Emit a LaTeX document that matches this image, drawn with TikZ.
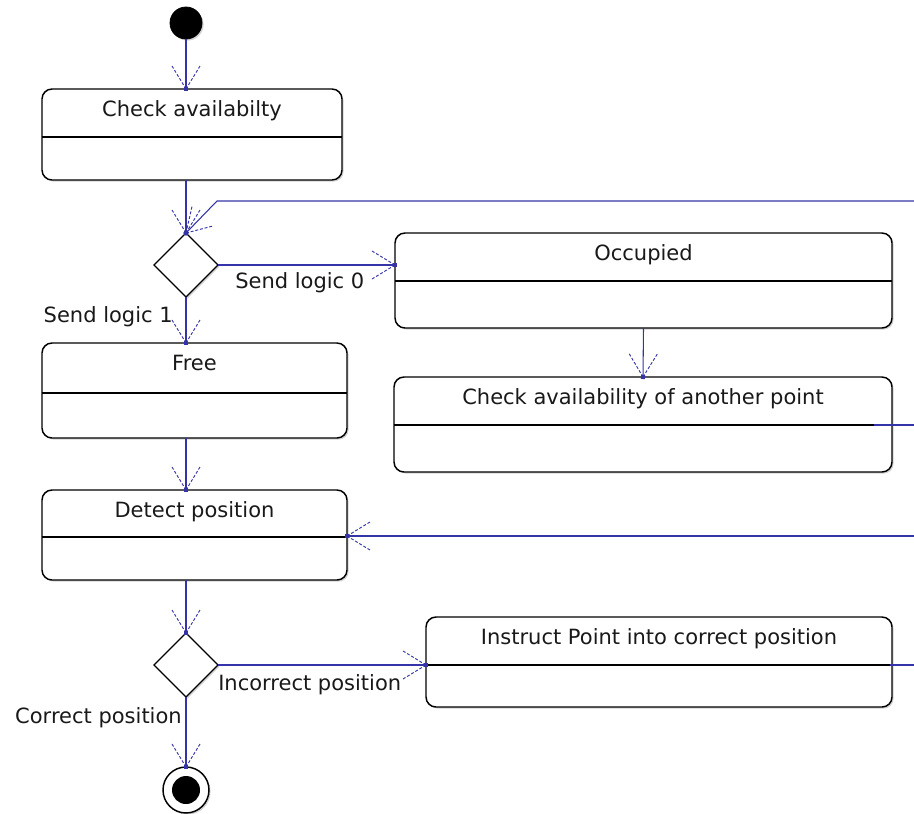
\documentclass[tikz,border=0pt]{standalone}
\usepackage{fontspec}
\setmainfont{DejaVu Sans}
\usetikzlibrary{shapes.geometric,shadows,decorations.markings}
\newlength\pxu
\setlength\pxu{0.75pt}
\definecolor{flowblue}{RGB}{52,52,168}
\definecolor{inkgray}{RGB}{25,25,25}
\begin{document}
\begin{tikzpicture}[x=0.75pt,y=-0.75pt,
  every node/.style={font=\fontsize{15.75pt}{18pt}\selectfont, text=inkgray},
  boxshadow/.style={drop shadow={shadow xshift=1.2pt, shadow yshift=-1.2pt, opacity=0.35}},
  statebox/.style={draw=black, line width=1.1pt, rounded corners=7.5pt, fill=white,
    inner sep=0pt, outer sep=0pt, boxshadow},
  divider/.style={draw=black, line width=1.1pt},
  choice/.style={diamond, draw=black, line width=0.9pt, fill=white, inner sep=0pt, outer sep=0pt,
    minimum width=64*\pxu, minimum height=64*\pxu, boxshadow},
  caption/.style={inner sep=0pt},
  flowline/.style={draw=flowblue, line width=0.8pt},
  flow/.style={flowline, postaction={decorate}, decoration={markings,
    mark=at position 1 with {
      \draw[flowblue, line width=0.7pt, dash pattern=on 2.2pt off 1.4pt]
        (0,0) -- (-23,14) (0,0) -- (-23,-14);
      \fill[flowblue] (-2,-2) rectangle (2,2);}}}
]
\useasboundingbox (0,0) rectangle (914,814);

% initial and final states
\node[circle, fill=black, draw=black, line width=0.6pt, minimum size=32*\pxu, inner sep=0pt, boxshadow] (start) at (186,23) {};
\node[circle, draw=black, line width=1.1pt, fill=white, minimum size=46*\pxu, inner sep=0pt, outer sep=0pt, boxshadow] (finish) at (186,790) {};
\node[circle, fill=black, minimum size=28*\pxu, inner sep=0pt] (finishcore) at (finish.center) {};

% action states
\node[statebox, minimum width=300*\pxu, minimum height=91*\pxu] (check) at (192,134.5) {};
\node[statebox, minimum width=497*\pxu, minimum height=95*\pxu] (occ) at (643.5,280.5) {};
\node[statebox, minimum width=498*\pxu, minimum height=95*\pxu] (ano) at (643,424.5) {};
\node[statebox, minimum width=305*\pxu, minimum height=95*\pxu] (free) at (194.5,390.5) {};
\node[statebox, minimum width=305*\pxu, minimum height=90*\pxu] (det) at (194.5,535) {};
\node[statebox, minimum width=466*\pxu, minimum height=90*\pxu] (ins) at (659,662) {};

% compartment dividers
\draw[divider] (check.west |- 0,137) -- (check.east |- 0,137);
\draw[divider] (occ.west |- 0,281) -- (occ.east |- 0,281);
\draw[divider] (ano.west |- 0,425) -- (ano.east |- 0,425);
\draw[divider] (free.west |- 0,393) -- (free.east |- 0,393);
\draw[divider] (det.west |- 0,537) -- (det.east |- 0,537);
\draw[divider] (ins.west |- 0,665) -- (ins.east |- 0,665);

% state names
\node[caption, anchor=base] (tcheck) at (check.north |- 0,116) {Check availabilty};
\node[caption, anchor=base] (tocc) at (occ.north |- 0,260) {Occupied};
\node[caption, anchor=base] (tano) at (ano.north |- 0,404) {Check availability of another point};
\node[caption, anchor=base] (tfree) at (free.north |- 0,370) {Free};
\node[caption, anchor=base] (tdet) at (det.north |- 0,517) {Detect position};
\node[caption, anchor=base] (tins) at (ins.north |- 0,644) {Instruct Point into correct position};

% decisions
\node[choice] (d1) at (186,265) {};
\node[choice] (d2) at (186,665) {};

% guard labels
\node[caption, anchor=base west] (g0) at (235,288) {Send logic 0};
\node[caption, anchor=base east] (g1) at (173,322) {Send logic 1};
\node[caption, anchor=base west] (g2) at (218,690) {Incorrect position};
\node[caption, anchor=base east] (g3) at (182,723) {Correct position};

% loose ends running off to the right
\coordinate (loopin) at (914,201);
\coordinate (loopbend) at (217,201);
\coordinate (anoout) at (874,425);
\coordinate (anoedge) at (914,425);
\coordinate (detin) at (914,536);
\coordinate (insout) at (890,665);
\coordinate (insedge) at (914,665);

% transitions
\draw[flow] (start.south) -- (start.south |- check.north);
\draw[flow] (d1.north |- check.south) -- (d1.north);
\draw[flow] (loopin) -- (loopbend) -- (d1.north);
\draw[flow] (d1.east) -- (d1.east -| occ.west);
\draw[flow] (d1.south) -- (d1.south |- free.north);
\draw[flow] (occ.south) -- (ano.north);
\draw[flowline] (anoout) -- (anoedge);
\draw[flow] (d1.south |- free.south) -- (d1.south |- det.north);
\draw[flow] (detin) -- (detin -| det.east);
\draw[flow] (d2.north |- det.south) -- (d2.north);
\draw[flow] (d2.east) -- (d2.east -| ins.west);
\draw[flowline] (insout) -- (insedge);
\draw[flow] (d2.south) -- (finish.north);
\end{tikzpicture}
\end{document}
